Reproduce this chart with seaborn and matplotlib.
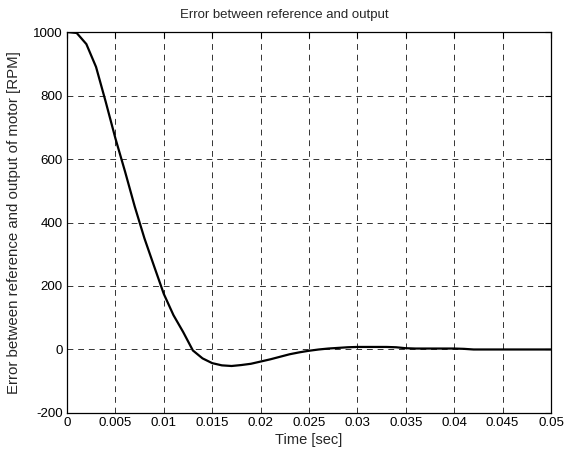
import numpy as np
import pandas as pd
import seaborn as sns
import matplotlib
matplotlib.use('Agg')
import matplotlib.pyplot as plt

time_sec = [0.000, 0.001, 0.002, 0.003, 0.004, 0.005, 0.006, 0.007, 0.008, 0.009,
            0.010, 0.011, 0.012, 0.013, 0.014, 0.015, 0.016, 0.017, 0.018, 0.019,
            0.020, 0.021, 0.022, 0.023, 0.024, 0.025, 0.026, 0.027, 0.028, 0.029,
            0.030, 0.031, 0.032, 0.033, 0.034, 0.035, 0.036, 0.037, 0.038, 0.039,
            0.040, 0.041, 0.042, 0.043, 0.044, 0.045, 0.046, 0.047, 0.048, 0.049,
            0.050]
error_rpm = [1000, 997, 962, 890, 780, 665, 560, 450, 350, 262,
             175, 108, 55, -3, -28, -43, -50, -52, -49, -45,
             -38, -31, -23, -15, -9, -4, 0, 3, 5, 7,
             8, 8, 8, 8, 7, 4, 3, 3, 3, 3,
             3, 2, 0, 0, 0, 0, 0, 0, 0, 0,
             0]

x_ticks = [0, 0.005, 0.01, 0.015, 0.02, 0.025, 0.03, 0.035, 0.04, 0.045, 0.05]
x_labels = ['0', '0.005', '0.01', '0.015', '0.02', '0.025', '0.03', '0.035', '0.04', '0.045', '0.05']
y_ticks = [-200, 0, 200, 400, 600, 800, 1000]

df = pd.DataFrame({'Time': time_sec, 'Error': error_rpm})

sns.set_style('white')
plt.rcParams['font.family'] = ['Liberation Sans', 'DejaVu Sans']
plt.rcParams['axes.unicode_minus'] = False

fig = plt.figure(figsize=(5.64, 4.51), dpi=100)
ax = fig.add_axes([0.1188, 0.0843, 0.8582, 0.8447])

sns.lineplot(x='Time', y='Error', data=df, ax=ax, color='black', linewidth=1.6)

ax.set_xlim(0, 0.05)
ax.set_ylim(-200, 1000)
ax.set_xticks(x_ticks)
ax.set_xticklabels(x_labels)
ax.set_yticks(y_ticks)
ax.grid(True, color='#333333', linestyle=(0, (6, 5)), linewidth=0.7)
ax.tick_params(direction='in', length=4, width=0.8, top=True, right=True,
               labelsize=9.6, colors='black', pad=3)
for s in ax.spines.values():
    s.set_color('black')
    s.set_linewidth(0.9)

# title sits centred on the figure rather than the axes
ax.set_title('Error between reference and output', fontsize=9.5, pad=10, x=0.448)
ax.set_xlabel('Time [sec]', fontsize=10.5, labelpad=3)
ax.set_ylabel('Error between reference and output of motor [RPM]', fontsize=10.8, labelpad=9)

fig.savefig('out.png', dpi=100)
